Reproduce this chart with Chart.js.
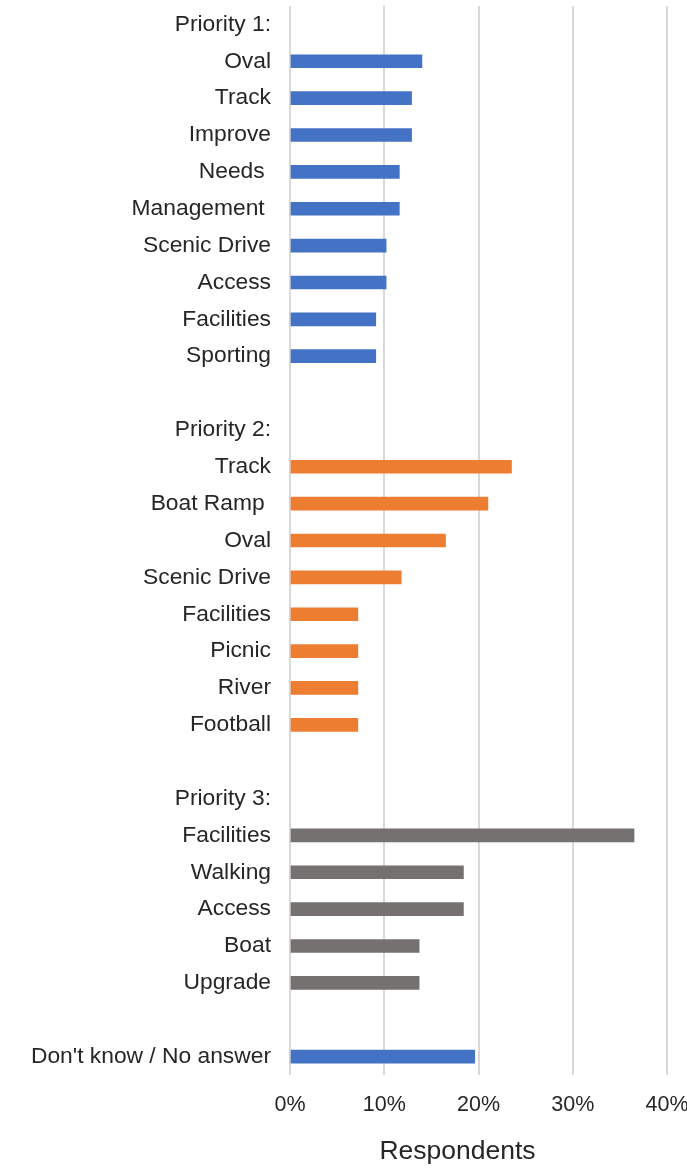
<!DOCTYPE html>
<html>
<head>
<meta charset="utf-8">
<script src="https://cdn.jsdelivr.net/npm/chart.js@4/dist/chart.umd.min.js"></script>
<style>
  html, body { margin: 0; padding: 0; background: #fff; }
  #wrap { width: 687px; height: 1169px; }
</style>
</head>
<body>
<div id="wrap"><canvas id="priorityChart" width="687" height="1169"></canvas></div>
<script>
// Row labels (blank strings are spacer rows, "Priority n:" rows are headers)
const categories = [
    'Priority 1:', 'Oval', 'Track', 'Improve', 'Needs ', 'Management ', 'Scenic Drive', 'Access', 'Facilities', 'Sporting',
    '',
    'Priority 2:', 'Track', 'Boat Ramp ', 'Oval', 'Scenic Drive', 'Facilities', 'Picnic', 'River', 'Football',
    '',
    'Priority 3:', 'Facilities', 'Walking', 'Access', 'Boat', 'Upgrade',
    '',
    "Don't know / No answer"
];

// Share of respondents (%), null where a row has no bar
const respondents = [
    null, 14.0, 12.9, 12.9, 11.6, 11.6, 10.2, 10.2, 9.1, 9.1,
    null,
    null, 23.5, 21.0, 16.5, 11.8, 7.2, 7.2, 7.2, 7.2,
    null,
    null, 36.5, 18.4, 18.4, 13.7, 13.7,
    null,
    19.6
];

// Which group each row belongs to (drives the bar colour)
const groups = [
    0, 1, 1, 1, 1, 1, 1, 1, 1, 1,
    0,
    0, 2, 2, 2, 2, 2, 2, 2, 2,
    0,
    0, 3, 3, 3, 3, 3,
    0,
    1
];

const xTicks = [0, 10, 20, 30, 40];
const axisTitle = 'Respondents';

const groupColors = { 0: 'rgba(0,0,0,0)', 1: '#4472C4', 2: '#ED7D31', 3: '#767171' };
const textColor = '#262626';
const fontFamily = '"Liberation Sans", Arial, sans-serif';

// axis title sits a little left of the plot centre, like the original
const axisTitlePlugin = {
    id: 'axisTitle',
    afterDraw(chart) {
        const c = chart.ctx;
        const area = chart.chartArea;
        c.save();
        c.fillStyle = textColor;
        c.font = '26.5px ' + fontFamily;
        c.textAlign = 'center';
        c.textBaseline = 'middle';
        c.fillText(axisTitle, (area.left + area.right) / 2 - 21, chart.height - 17);
        c.restore();
    }
};

const ctx = document.getElementById('priorityChart').getContext('2d');

new Chart(ctx, {
    type: 'bar',
    data: {
        labels: categories,
        datasets: [{
            label: axisTitle,
            data: respondents,
            backgroundColor: groups.map(g => groupColors[g]),
            barThickness: 13
        }]
    },
    plugins: [axisTitlePlugin],
    options: {
        indexAxis: 'y',
        responsive: false,
        animation: false,
        layout: { padding: { top: 6, right: 20, bottom: 0, left: 0 } },
        plugins: {
            legend: { display: false },
            tooltip: { enabled: false }
        },
        scales: {
            x: {
                min: 0,
                max: 40,
                afterBuildTicks: function (scale) {
                    scale.ticks = xTicks.map(v => ({ value: v }));
                },
                afterFit: function (scale) {
                    scale.height = 94;
                    scale.paddingLeft = 0;
                    scale.paddingRight = 0;
                },
                grid: { color: '#d9d9d9', lineWidth: 2, drawTicks: false },
                border: { display: false },
                ticks: {
                    padding: 17,
                    color: textColor,
                    font: { family: fontFamily, size: 21.5 },
                    callback: v => v + '%'
                }
            },
            y: {
                afterFit: function (scale) {
                    scale.width = 290;
                    scale.paddingTop = 0;
                    scale.paddingBottom = 0;
                },
                grid: { display: false, drawTicks: false },
                border: { display: false },
                ticks: {
                    padding: 19,
                    autoSkip: false,
                    color: textColor,
                    font: { family: fontFamily, size: 22.8 }
                }
            }
        }
    }
});
</script>
</body>
</html>
